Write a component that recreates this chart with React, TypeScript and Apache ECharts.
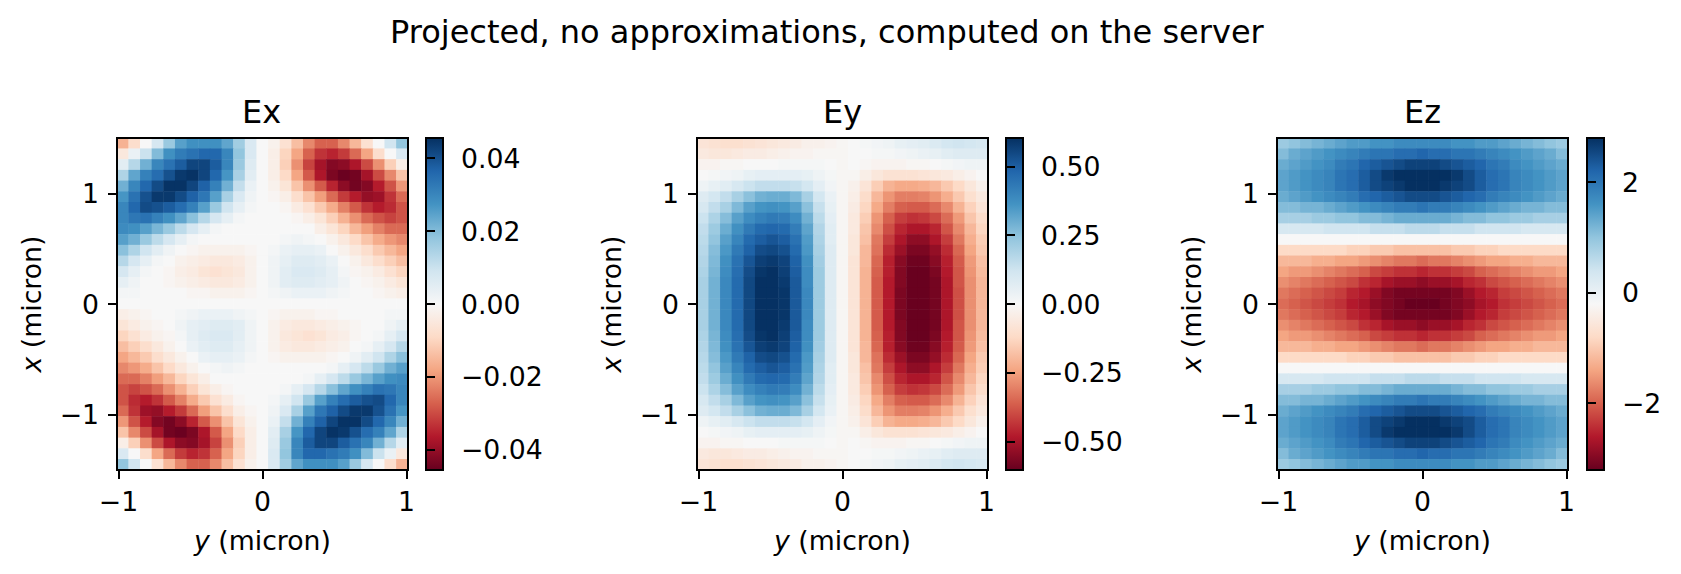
import React, { useEffect, useRef } from "react";
import * as echarts from "echarts";

const FONT = "DejaVu Sans";
const SUPTITLE = "Projected, no approximations, computed on the server";
const PANEL_TITLES = ["Ex", "Ey", "Ez"];
const RDBU = ["#053061", "#2166ac", "#4393c3", "#92c5de", "#d1e5f0", "#f7f7f7", "#fddbc7", "#f4a582", "#d6604d", "#b2182b", "#67001f"];

// cell centres of the sampled picture
const Y_CELLS = ["-0.97", "-0.89", "-0.81", "-0.73", "-0.65", "-0.57", "-0.48", "-0.40", "-0.32", "-0.24", "-0.16", "-0.08", "0.00", "0.08", "0.16", "0.24", "0.32", "0.40", "0.48", "0.57", "0.65", "0.73", "0.81", "0.89", "0.97"];
const X_CELLS = ["1.46", "1.36", "1.26", "1.17", "1.07", "0.97", "0.87", "0.78", "0.68", "0.58", "0.49", "0.39", "0.29", "0.19", "0.10", "0.00", "-0.10", "-0.19", "-0.29", "-0.39", "-0.49", "-0.58", "-0.68", "-0.78", "-0.87", "-0.97", "-1.07", "-1.17", "-1.26", "-1.36", "-1.46"];

// values, rows top to bottom, columns left to right
const EX_UNIT = 0.001;
const EX_VALUES = [
[-16,-8,0,8,17,25,28,28,28,24,16,7,0,-2,-7,-14,-22,-27,-27,-22,-15,-7,0,9,18],
[-5,3,10,20,28,32,34,36,36,30,18,7,0,-3,-10,-18,-27,-33,-35,-32,-26,-18,-8,0,7],
[5,13,22,30,34,38,42,42,38,30,17,6,0,-3,-11,-21,-31,-38,-42,-41,-37,-30,-21,-11,-3],
[14,24,31,35,40,44,45,42,36,27,15,5,0,-3,-9,-18,-28,-37,-43,-45,-44,-38,-30,-22,-13],
[22,30,36,41,45,45,42,37,31,22,11,3,0,-2,-6,-13,-21,-28,-35,-41,-44,-42,-36,-29,-20],
[27,34,40,44,44,41,37,33,25,15,7,2,0,-1,-3,-8,-13,-19,-26,-32,-36,-40,-39,-33,-26],
[30,36,41,40,38,35,31,25,17,9,4,1,0,0,-1,-4,-7,-12,-17,-23,-28,-33,-36,-34,-29],
[30,33,34,31,28,24,19,13,8,4,1,0,0,0,0,-1,-3,-6,-11,-16,-21,-26,-29,-31,-29],
[29,28,25,21,17,12,8,4,1,0,0,0,0,0,0,0,0,-3,-6,-10,-15,-19,-23,-26,-26],
[25,22,17,12,8,4,1,0,0,0,0,0,0,0,1,2,1,0,-2,-5,-9,-13,-17,-20,-22],
[19,14,9,5,2,0,-1,-2,-2,-2,-2,-1,0,1,3,4,4,3,0,-2,-5,-8,-12,-15,-18],
[13,8,4,1,0,-2,-3,-4,-5,-5,-4,-2,0,2,4,6,6,5,3,0,-2,-5,-8,-11,-14],
[8,4,1,0,-1,-3,-4,-6,-7,-6,-5,-2,0,2,5,7,7,6,4,1,-1,-2,-4,-7,-10],
[4,2,0,0,-1,-2,-3,-4,-5,-5,-4,-2,0,2,5,6,6,5,4,2,0,-1,-2,-4,-6],
[1,1,0,0,0,0,-1,-1,-2,-2,-2,-1,0,1,2,3,3,3,2,1,0,0,-1,-2,-3],
[0,0,0,0,0,0,0,0,0,0,0,0,0,0,0,0,0,0,0,0,0,0,0,0,0],
[-3,-2,-1,0,0,1,2,3,3,3,2,1,0,-1,-2,-2,-2,-1,-1,0,0,0,0,1,1],
[-6,-4,-2,-1,0,2,4,5,6,6,5,2,0,-2,-4,-5,-5,-4,-3,-2,-1,0,0,2,4],
[-10,-7,-4,-2,-1,1,4,6,7,7,5,2,0,-2,-5,-6,-7,-6,-4,-3,-1,0,1,4,8],
[-14,-11,-8,-5,-2,0,3,5,6,6,4,2,0,-2,-4,-5,-5,-4,-3,-2,0,1,4,8,13],
[-18,-15,-12,-8,-5,-2,0,3,4,4,3,1,0,-1,-2,-2,-2,-2,-1,0,2,5,9,14,19],
[-22,-20,-17,-13,-9,-5,-2,0,1,2,1,0,0,0,0,0,0,0,1,4,8,12,17,22,25],
[-26,-26,-23,-19,-15,-10,-6,-3,0,0,0,0,0,0,0,0,1,4,8,12,17,21,25,28,29],
[-29,-31,-29,-26,-21,-16,-11,-6,-3,-1,0,0,0,0,1,4,8,13,19,24,28,31,34,33,30],
[-29,-34,-36,-33,-28,-23,-17,-12,-7,-4,-1,0,0,1,4,9,17,25,31,35,38,40,41,36,30],
[-26,-33,-39,-40,-36,-32,-26,-19,-13,-8,-3,-1,0,2,7,15,25,33,37,41,44,44,40,34,27],
[-20,-29,-36,-42,-44,-41,-35,-28,-21,-13,-6,-2,0,3,11,22,31,37,42,45,45,41,36,30,22],
[-13,-22,-30,-38,-44,-45,-43,-37,-28,-18,-9,-3,0,5,15,27,36,42,45,44,40,35,31,24,14],
[-3,-11,-21,-30,-37,-41,-42,-38,-31,-21,-11,-3,0,6,17,30,38,42,42,38,34,30,22,13,5],
[7,0,-8,-18,-26,-32,-35,-33,-27,-18,-10,-3,0,7,18,30,36,36,34,32,28,20,10,3,-5],
[18,9,0,-7,-15,-22,-27,-27,-22,-14,-7,-2,0,7,16,24,28,28,28,25,17,8,0,-8,-16],
];

const EY_UNIT = 0.01;
const EY_VALUES = [
[-8,-9,-10,-10,-9,-8,-7,-6,-5,-3,-3,-2,-1,0,1,2,3,5,6,7,9,11,12,11,10],
[-6,-7,-7,-6,-5,-5,-4,-3,-2,-2,-1,-1,-1,0,0,1,1,2,3,4,5,7,8,8,8],
[-2,-2,-1,-1,0,0,0,1,1,1,1,0,-1,0,-1,-2,-2,-2,-1,-1,0,1,2,3,3],
[0,1,2,3,5,6,6,6,6,5,3,1,-1,-1,-4,-7,-9,-9,-9,-8,-7,-6,-4,-2,0],
[3,5,7,10,13,15,15,15,14,11,6,2,-1,-3,-8,-15,-21,-23,-23,-22,-20,-16,-12,-7,-3],
[8,11,15,20,25,29,30,30,27,20,11,4,-1,-4,-11,-20,-27,-31,-31,-30,-27,-22,-16,-10,-6],
[10,15,20,27,33,36,37,36,33,25,14,5,-1,-5,-13,-23,-31,-36,-37,-37,-34,-29,-21,-14,-8],
[13,19,26,33,38,41,43,42,38,29,16,6,-1,-6,-15,-27,-36,-42,-44,-43,-40,-34,-26,-17,-11],
[15,22,30,37,43,47,48,47,42,32,18,7,-1,-6,-17,-29,-39,-46,-49,-49,-46,-38,-29,-20,-13],
[16,24,33,40,47,50,52,50,45,34,19,7,-1,-7,-18,-32,-42,-49,-54,-54,-49,-42,-32,-22,-15],
[17,26,35,43,49,54,55,53,47,35,20,8,-1,-7,-20,-33,-45,-52,-57,-57,-53,-45,-35,-24,-16],
[18,27,37,45,52,57,58,56,49,37,21,8,-1,-8,-20,-35,-47,-55,-59,-59,-55,-47,-37,-26,-18],
[19,28,38,46,54,59,60,57,50,38,22,8,-1,-8,-21,-36,-47,-56,-60,-60,-57,-48,-38,-27,-19],
[20,29,39,47,55,60,60,58,51,38,22,8,-1,-8,-21,-37,-48,-56,-60,-60,-58,-49,-38,-28,-20],
[20,29,39,47,55,60,60,59,51,39,22,8,-1,-8,-21,-37,-48,-57,-60,-60,-58,-49,-39,-28,-20],
[20,29,39,47,55,60,60,59,51,39,22,8,-1,-8,-21,-37,-48,-57,-60,-60,-58,-49,-39,-28,-20],
[20,29,39,47,55,60,60,59,51,39,22,8,-1,-8,-21,-37,-48,-57,-60,-60,-58,-49,-39,-28,-20],
[20,29,39,47,55,60,60,58,51,38,22,8,-1,-8,-21,-37,-48,-56,-60,-60,-58,-49,-38,-28,-20],
[19,28,38,46,54,59,60,57,50,38,22,8,-1,-8,-21,-36,-47,-56,-60,-60,-57,-48,-38,-27,-19],
[18,27,37,45,52,57,58,56,49,37,21,8,-1,-8,-20,-35,-47,-55,-59,-59,-55,-47,-37,-26,-18],
[17,26,35,43,49,54,55,53,47,35,20,8,-1,-7,-20,-33,-45,-52,-57,-57,-53,-45,-35,-24,-16],
[16,24,33,40,47,50,52,50,45,34,19,7,-1,-7,-18,-32,-42,-49,-54,-54,-49,-42,-32,-22,-15],
[15,22,30,37,43,47,48,47,42,32,18,7,-1,-6,-17,-29,-39,-46,-49,-49,-46,-38,-29,-20,-13],
[13,19,26,33,38,41,43,42,38,29,16,6,-1,-6,-15,-27,-36,-42,-44,-43,-40,-34,-26,-17,-11],
[10,15,20,27,33,36,37,36,33,25,14,5,-1,-5,-13,-23,-31,-36,-37,-37,-34,-29,-21,-14,-8],
[8,11,15,20,25,29,30,30,27,20,11,4,-1,-4,-11,-20,-27,-31,-31,-30,-27,-22,-16,-10,-6],
[3,5,7,10,13,15,15,15,14,11,6,2,-1,-3,-8,-15,-21,-23,-23,-22,-20,-16,-12,-7,-3],
[0,1,2,3,5,6,6,6,6,5,3,1,-1,-1,-4,-7,-9,-9,-9,-8,-7,-6,-4,-2,0],
[-2,-2,-1,-1,0,0,0,1,1,1,1,0,-1,0,-1,-2,-2,-2,-1,-1,0,1,2,3,3],
[-6,-7,-7,-6,-5,-5,-4,-3,-2,-2,-1,-1,-1,0,0,1,1,2,3,4,5,7,8,8,8],
[-8,-9,-10,-10,-9,-8,-7,-6,-5,-3,-3,-2,-1,0,1,2,3,5,6,7,9,11,12,11,10],
];

const EZ_UNIT = 0.1;
const EZ_VALUES = [
[9,10,11,12,13,14,15,15,16,16,17,17,17,17,17,16,16,15,15,14,13,12,11,10,9],
[11,13,14,15,16,17,18,19,20,20,21,21,22,21,21,20,20,19,18,17,16,15,14,13,11],
[13,14,15,16,17,19,20,22,23,24,25,26,26,26,25,24,23,22,20,19,17,16,15,14,13],
[14,15,16,17,18,20,21,23,25,27,28,28,28,28,28,27,25,23,21,20,18,17,16,15,14],
[14,15,16,17,18,20,21,23,25,26,27,28,28,28,27,26,25,23,21,20,18,17,16,15,14],
[13,14,15,16,17,18,19,21,22,23,24,25,25,25,24,23,22,21,19,18,17,16,15,14,13],
[11,11,12,12,13,14,15,16,17,18,19,19,20,19,19,18,17,16,15,14,13,12,12,11,11],
[8,8,8,9,9,10,10,11,11,12,13,13,13,13,13,12,11,11,10,10,9,9,8,8,8],
[3,3,3,3,4,4,4,4,5,5,5,6,6,6,5,5,5,4,4,4,4,3,3,3,3],
[-2,-2,-2,-2,-2,-2,-2,-2,-2,-2,-2,-2,-2,-2,-2,-2,-2,-2,-2,-2,-2,-2,-2,-2,-2],
[-8,-8,-8,-8,-8,-8,-9,-9,-10,-10,-11,-11,-11,-11,-11,-10,-10,-9,-9,-8,-8,-8,-8,-8,-8],
[-12,-12,-12,-13,-13,-14,-14,-15,-16,-17,-18,-18,-19,-18,-18,-17,-16,-15,-14,-14,-13,-13,-12,-12,-12],
[-14,-15,-15,-16,-17,-18,-19,-20,-22,-23,-24,-24,-25,-24,-24,-23,-22,-20,-19,-18,-17,-16,-15,-15,-14],
[-16,-17,-18,-19,-20,-21,-22,-24,-25,-27,-28,-28,-29,-28,-28,-27,-25,-24,-22,-21,-20,-19,-18,-17,-16],
[-18,-19,-20,-21,-22,-23,-25,-26,-28,-30,-31,-31,-31,-31,-31,-30,-28,-26,-25,-23,-22,-21,-20,-19,-18],
[-19,-20,-21,-22,-23,-24,-26,-27,-29,-30,-31,-32,-32,-32,-31,-30,-29,-27,-26,-24,-23,-22,-21,-20,-19],
[-18,-19,-20,-21,-22,-23,-25,-26,-28,-30,-31,-31,-31,-31,-31,-30,-28,-26,-25,-23,-22,-21,-20,-19,-18],
[-16,-17,-18,-19,-20,-21,-22,-24,-25,-27,-28,-28,-29,-28,-28,-27,-25,-24,-22,-21,-20,-19,-18,-17,-16],
[-14,-15,-15,-16,-17,-18,-19,-20,-22,-23,-24,-24,-25,-24,-24,-23,-22,-20,-19,-18,-17,-16,-15,-15,-14],
[-12,-12,-12,-13,-13,-14,-14,-15,-16,-17,-18,-18,-19,-18,-18,-17,-16,-15,-14,-14,-13,-13,-12,-12,-12],
[-8,-8,-8,-8,-8,-8,-9,-9,-10,-10,-11,-11,-11,-11,-11,-10,-10,-9,-9,-8,-8,-8,-8,-8,-8],
[-2,-2,-2,-2,-2,-2,-2,-2,-2,-2,-2,-2,-2,-2,-2,-2,-2,-2,-2,-2,-2,-2,-2,-2,-2],
[3,3,3,3,4,4,4,4,5,5,5,6,6,6,5,5,5,4,4,4,4,3,3,3,3],
[8,8,8,9,9,10,10,11,11,12,13,13,13,13,13,12,11,11,10,10,9,9,8,8,8],
[11,11,12,12,13,14,15,16,17,18,19,19,20,19,19,18,17,16,15,14,13,12,12,11,11],
[13,14,15,16,17,18,19,21,22,23,24,25,25,25,24,23,22,21,19,18,17,16,15,14,13],
[14,15,16,17,18,20,21,23,25,26,27,28,28,28,27,26,25,23,21,20,18,17,16,15,14],
[14,15,16,17,18,20,21,23,25,27,28,28,28,28,28,27,25,23,21,20,18,17,16,15,14],
[13,14,15,16,17,19,20,22,23,24,25,26,26,26,25,24,23,22,20,19,17,16,15,14,13],
[11,13,14,15,16,17,18,19,20,20,21,21,22,21,21,20,20,19,18,17,16,15,14,13,11],
[9,10,11,12,13,14,15,15,16,16,17,17,17,17,17,16,16,15,15,14,13,12,11,10,9],
];

const AXIS_TICKS = [-1, 0, 1];
const AXIS_LABELS = ["\u22121", "0", "1"];
const EX_TICKS = [0.04, 0.02, 0, -0.02, -0.04];
const EX_LABELS = ["0.04", "0.02", "0.00", "\u22120.02", "\u22120.04"];
const EY_TICKS = [0.5, 0.25, 0, -0.25, -0.5];
const EY_LABELS = ["0.50", "0.25", "0.00", "\u22120.25", "\u22120.50"];
const EZ_TICKS = [2, 0, -2];
const EZ_LABELS = ["2", "0", "\u22122"];
const COLOR_RANGES = [[-0.0455, 0.0455], [-0.603, 0.603], [-3.21, 2.8]];

const FIELDS = [
  { values: EX_VALUES, unit: EX_UNIT, range: COLOR_RANGES[0], ticks: EX_TICKS, labels: EX_LABELS, left: 117, cbLeft: 426, titleLeft: 242 },
  { values: EY_VALUES, unit: EY_UNIT, range: COLOR_RANGES[1], ticks: EY_TICKS, labels: EY_LABELS, left: 697, cbLeft: 1006, titleLeft: 823 },
  { values: EZ_VALUES, unit: EZ_UNIT, range: COLOR_RANGES[2], ticks: EZ_TICKS, labels: EZ_LABELS, left: 1277, cbLeft: 1587, titleLeft: 1404 },
];

const TOP = 138;
const HEIGHT = 332;
const WIDTH = 291;
const CB_WIDTH = 17;
const LINE = 2;
const TICK_FONT = 26.7;
const TITLE_FONT = 32;

function labelFormatter(ticks: number[], labels: string[]) {
  return (v: number) => labels[ticks.indexOf(v)] ?? "";
}

function buildOption() {
  const grid: any[] = [];
  const xAxis: any[] = [];
  const yAxis: any[] = [];
  const series: any[] = [];
  const visualMap: any[] = [];
  const title: any[] = [
    { text: SUPTITLE, left: 390, top: 16, padding: 0, textStyle: { fontFamily: FONT, fontSize: TITLE_FONT, fontWeight: "normal", color: "#000" } },
  ];
  const border = { show: true, onZero: false, lineStyle: { color: "#000", width: LINE, cap: "square" } };
  const tickStyle = { length: 9, lineStyle: { color: "#000", width: LINE } };
  const labelStyle = { fontFamily: FONT, fontSize: TICK_FONT, color: "#000" };
  const rich = { i: { fontFamily: FONT, fontSize: TICK_FONT, fontStyle: "italic", color: "#000" } };
  const nameStyle = { fontFamily: FONT, fontSize: TICK_FONT, color: "#000", rich };

  FIELDS.forEach((f, p) => {
    title.push({ text: PANEL_TITLES[p], left: f.titleLeft, top: 96, padding: 0, textStyle: { fontFamily: FONT, fontSize: TITLE_FONT, fontWeight: "normal", color: "#000" } });
    grid.push({ left: f.left, top: TOP, width: WIDTH, height: HEIGHT });
    const catX = xAxis.length;
    const catY = yAxis.length;
    xAxis.push({ type: "category", gridIndex: p, data: Y_CELLS, position: "top", z: 5, axisLine: border, axisTick: { show: false }, axisLabel: { show: false }, splitLine: { show: false } });
    xAxis.push({
      type: "value", gridIndex: p, min: -1.01, max: 1.01, position: "bottom", z: 5, splitLine: { show: false },
      axisLine: border,
      axisTick: { ...tickStyle, customValues: AXIS_TICKS },
      axisLabel: { ...labelStyle, margin: 18, customValues: AXIS_TICKS, formatter: labelFormatter(AXIS_TICKS, AXIS_LABELS) },
      name: "{i|y} (micron)", nameLocation: "middle", nameGap: 57, nameTextStyle: nameStyle,
    });
    yAxis.push({ type: "category", gridIndex: p, data: X_CELLS, inverse: true, position: "right", z: 5, axisLine: border, axisTick: { show: false }, axisLabel: { show: false }, splitLine: { show: false } });
    yAxis.push({
      type: "value", gridIndex: p, min: -1.505, max: 1.505, position: "left", z: 5, splitLine: { show: false },
      axisLine: border,
      axisTick: { ...tickStyle, customValues: AXIS_TICKS },
      axisLabel: { ...labelStyle, margin: 18, customValues: AXIS_TICKS, formatter: labelFormatter(AXIS_TICKS, AXIS_LABELS) },
      name: "{i|x} (micron)", nameLocation: "middle", nameGap: 72, nameTextStyle: nameStyle,
    });
    const data: number[][] = [];
    f.values.forEach((row, r) => row.forEach((v, c) => data.push([c, r, v * f.unit])));
    series.push({ type: "heatmap", xAxisIndex: catX, yAxisIndex: catY, data, silent: true, progressive: 0, emphasis: { disabled: true } });
    visualMap.push({ show: false, seriesIndex: p, dimension: 2, min: f.range[0], max: f.range[1], inRange: { color: [...RDBU].reverse() } });
  });

  FIELDS.forEach((f, p) => {
    const g = grid.length;
    grid.push({
      left: f.cbLeft, top: TOP, width: CB_WIDTH, height: HEIGHT, show: true, borderColor: "#000", borderWidth: LINE,
      backgroundColor: { type: "linear", x: 0, y: 0, x2: 0, y2: 1, colorStops: RDBU.map((color, i) => ({ offset: i / (RDBU.length - 1), color })) },
    });
    xAxis.push({ type: "value", gridIndex: g, min: 0, max: 1, show: false });
    yAxis.push({
      type: "value", gridIndex: g, min: f.range[0], max: f.range[1], position: "right", z: 5, splitLine: { show: false },
      axisLine: { show: false },
      axisTick: { ...tickStyle, customValues: f.ticks },
      axisLabel: { ...labelStyle, margin: 18, customValues: f.ticks, formatter: labelFormatter(f.ticks, f.labels) },
    });
  });

  return { animation: false, backgroundColor: "#fff", title, grid, xAxis, yAxis, series, visualMap };
}

export default function App() {
  const ref = useRef<HTMLDivElement>(null);
  useEffect(() => {
    const chart = echarts.init(ref.current!, undefined, { renderer: "svg" });
    chart.setOption(buildOption() as any);
    return () => chart.dispose();
  }, []);
  return <div ref={ref} style={{ position: "fixed", left: 0, top: 0, width: 1681, height: 574 }} />;
}
